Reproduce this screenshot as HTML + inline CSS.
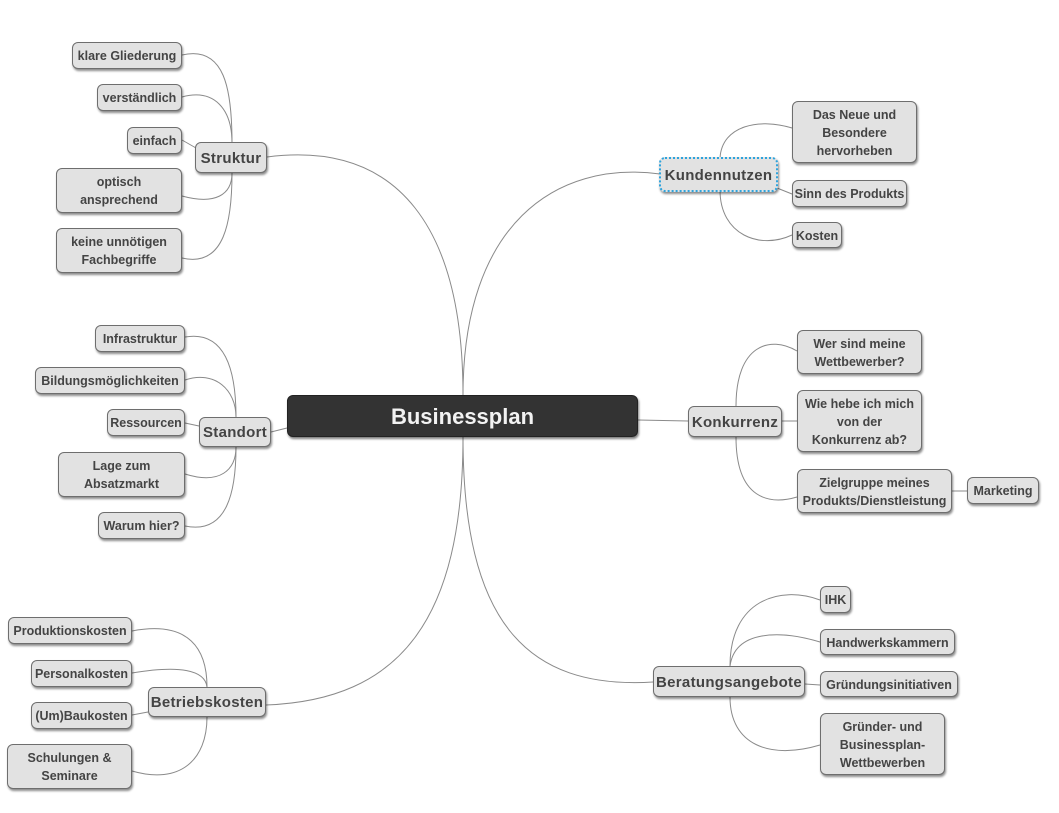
<!DOCTYPE html>
<html>
<head>
<meta charset="utf-8">
<style>
html,body{margin:0;padding:0;background:#fff;}
body{width:1059px;height:813px;position:relative;overflow:hidden;font-family:"Liberation Sans",Arial,sans-serif;}
svg{position:absolute;left:0;top:0;}
.n{position:absolute;box-sizing:border-box;background:#e2e2e2;border:1px solid #6e6e6e;border-radius:6px;box-shadow:1px 2px 2px rgba(0,0,0,.45);display:flex;align-items:center;justify-content:center;text-align:center;font-weight:bold;font-size:12.5px;color:#444;line-height:18px;white-space:nowrap;padding-top:1px;}
.l1{font-size:15px;letter-spacing:0.3px;padding-top:2px;}
.c{background:#333;border:1px solid #222;color:#f2f2f2;font-size:22px;border-radius:6px;box-shadow:1px 2px 2px rgba(0,0,0,.5);padding-top:1px;}
.sel{border:2px dotted #2ea3dc;}
</style>
</head>
<body>
<svg width="1059" height="813" viewBox="0 0 1059 813">
<g fill="none" stroke="#8a8a8a" stroke-width="1">
<!-- main -->
<path d="M267,157 C400,140 463,230 463,395"/>
<path d="M463,395 C463,225 555,160 660,174"/>
<path d="M271,432 L287,428"/>
<path d="M638,420 L688,421"/>
<path d="M463,437 C463,620 400,700 266,705"/>
<path d="M463,437 C463,620 525,690 653,682"/>
<!-- Struktur -->
<path d="M182,55 C225,45 232,90 232,143"/>
<path d="M182,97 C215,88 232,110 232,143"/>
<path d="M182,140 L196,148"/>
<path d="M182,196 C215,205 232,195 232,173"/>
<path d="M182,258 C225,268 232,220 232,173"/>
<!-- Standort -->
<path d="M185,337 C225,330 236,370 236,417"/>
<path d="M185,380 C215,370 236,390 236,417"/>
<path d="M185,423 L199,426"/>
<path d="M185,474 C220,485 236,470 236,447"/>
<path d="M185,526 C228,535 236,490 236,447"/>
<!-- Betriebskosten -->
<path d="M132,631 C190,620 207,650 207,687"/>
<path d="M132,673 C180,665 205,670 207,687"/>
<path d="M132,715 L148,712"/>
<path d="M132,771 C180,785 207,760 207,717"/>
<!-- Kundennutzen -->
<path d="M720,158 C722,125 760,118 792,128"/>
<path d="M777,188 L792,194"/>
<path d="M720,190 C720,235 760,250 792,235"/>
<!-- Konkurrenz -->
<path d="M736,406 C736,345 770,335 797,351"/>
<path d="M782,421 L797,421"/>
<path d="M736,437 C736,500 770,505 797,497"/>
<path d="M952,491 L967,491"/>
<!-- Beratungsangebote -->
<path d="M730,666 C730,600 780,585 820,600"/>
<path d="M730,666 C735,630 780,630 820,642"/>
<path d="M805,684 L820,685"/>
<path d="M730,697 C730,745 770,760 820,745"/>
</g>
</svg>

<div class="n c" style="left:287px;top:395px;width:351px;height:42px;">Businessplan</div>

<!-- Struktur -->
<div class="n l1" style="left:195px;top:142px;width:72px;height:31px;">Struktur</div>
<div class="n" style="left:72px;top:42px;width:110px;height:27px;">klare Gliederung</div>
<div class="n" style="left:97px;top:84px;width:85px;height:27px;">verständlich</div>
<div class="n" style="left:127px;top:127px;width:55px;height:27px;">einfach</div>
<div class="n" style="left:56px;top:168px;width:126px;height:45px;">optisch<br>ansprechend</div>
<div class="n" style="left:56px;top:228px;width:126px;height:45px;">keine unnötigen<br>Fachbegriffe</div>

<!-- Standort -->
<div class="n l1" style="left:199px;top:417px;width:72px;height:30px;">Standort</div>
<div class="n" style="left:95px;top:325px;width:90px;height:27px;">Infrastruktur</div>
<div class="n" style="left:35px;top:367px;width:150px;height:27px;">Bildungsmöglichkeiten</div>
<div class="n" style="left:107px;top:409px;width:78px;height:27px;">Ressourcen</div>
<div class="n" style="left:58px;top:452px;width:127px;height:45px;">Lage zum<br>Absatzmarkt</div>
<div class="n" style="left:98px;top:512px;width:87px;height:27px;">Warum hier?</div>

<!-- Betriebskosten -->
<div class="n l1" style="left:148px;top:687px;width:118px;height:30px;">Betriebskosten</div>
<div class="n" style="left:8px;top:617px;width:124px;height:27px;">Produktionskosten</div>
<div class="n" style="left:31px;top:660px;width:101px;height:27px;">Personalkosten</div>
<div class="n" style="left:31px;top:702px;width:101px;height:27px;">(Um)Baukosten</div>
<div class="n" style="left:7px;top:744px;width:125px;height:45px;">Schulungen &amp;<br>Seminare</div>

<!-- Kundennutzen -->
<div class="n l1 sel" style="left:659px;top:157px;width:119px;height:35px;">Kundennutzen</div>
<div class="n" style="left:792px;top:101px;width:125px;height:62px;">Das Neue und<br>Besondere<br>hervorheben</div>
<div class="n" style="left:792px;top:180px;width:115px;height:27px;">Sinn des Produkts</div>
<div class="n" style="left:792px;top:222px;width:50px;height:26px;">Kosten</div>

<!-- Konkurrenz -->
<div class="n l1" style="left:688px;top:406px;width:94px;height:31px;">Konkurrenz</div>
<div class="n" style="left:797px;top:330px;width:125px;height:44px;">Wer sind meine<br>Wettbewerber?</div>
<div class="n" style="left:797px;top:390px;width:125px;height:62px;">Wie hebe ich mich<br>von der<br>Konkurrenz ab?</div>
<div class="n" style="left:797px;top:469px;width:155px;height:44px;">Zielgruppe meines<br>Produkts/Dienstleistung</div>
<div class="n" style="left:967px;top:477px;width:72px;height:27px;">Marketing</div>

<!-- Beratungsangebote -->
<div class="n l1" style="left:653px;top:666px;width:152px;height:31px;">Beratungsangebote</div>
<div class="n" style="left:820px;top:586px;width:31px;height:27px;">IHK</div>
<div class="n" style="left:820px;top:629px;width:135px;height:26px;">Handwerkskammern</div>
<div class="n" style="left:820px;top:671px;width:138px;height:26px;">Gründungsinitiativen</div>
<div class="n" style="left:820px;top:713px;width:125px;height:62px;">Gründer- und<br>Businessplan-<br>Wettbewerben</div>
</body>
</html>
